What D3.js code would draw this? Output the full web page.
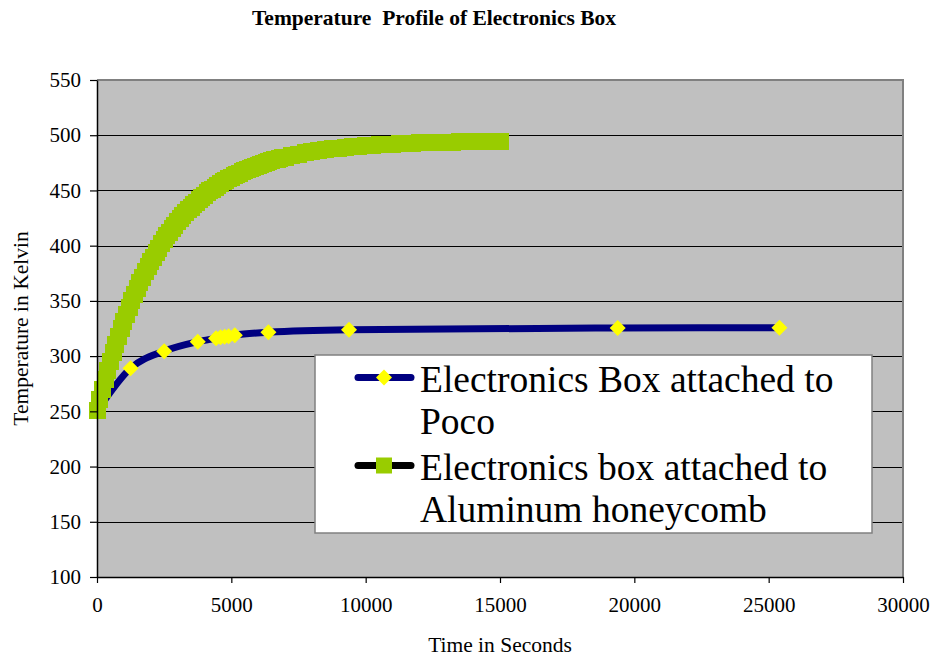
<!DOCTYPE html>
<html>
<head>
<meta charset="utf-8">
<script src="https://cdn.jsdelivr.net/npm/d3@7"></script>
<style>
  html, body { margin: 0; padding: 0; background: #fff; }
  svg { display: block; font-family: "Liberation Serif", "Times New Roman", serif; }
  svg text { white-space: pre; }
</style>
</head>
<body>
<svg id="chart" width="933" height="658"></svg>
<script>
// Time in seconds and temperature in Kelvin, box mounted on Poco
const pocoTime = [0, 1250, 2500, 3750, 4430, 4600, 4750, 4900, 5130, 6380, 9380, 19380, 25400];
const pocoTemp = [250, 289, 304.5, 313, 316.2, 317, 317.5, 318, 319, 321.5, 323.8, 325.5, 325.6];

// Time in seconds and temperature in Kelvin, box mounted on aluminum honeycomb
const honeyTime = [
  0, 100, 200, 300, 400, 500, 600, 700, 800, 900,
  1000, 1100, 1200, 1300, 1400, 1500, 1600, 1700, 1800, 1900,
  2000, 2100, 2200, 2300, 2400, 2500, 2600, 2700, 2800, 2900,
  3000, 3100, 3200, 3300, 3400, 3500, 3600, 3700, 3800, 3900,
  4000, 4100, 4200, 4300, 4400, 4500, 4600, 4700, 4800, 4900,
  5000, 5100, 5200, 5300, 5400, 5500, 5600, 5700, 5800, 5900,
  6000, 6100, 6200, 6300, 6400, 6500, 6600, 6700, 6800, 6900,
  7000, 7250, 7500, 7750, 8000, 8250, 8500, 8750, 9000, 9250,
  9500, 9750, 10000, 10250, 10500, 10750, 11000, 11250, 11500, 11750,
  12000, 12250, 12500, 12750, 13000, 13250, 13500, 13750, 14000, 14250,
  14500, 14750, 15000
];
const honeyTemp = [
  251.0, 260.6, 269.8, 278.6, 287.1, 295.2, 303.1, 310.6, 317.8, 324.8,
  331.4, 337.9, 344.0, 349.9, 355.6, 361.1, 366.3, 371.4, 376.2, 380.9,
  385.4, 389.7, 393.8, 397.8, 401.6, 405.2, 408.8, 412.1, 415.4, 418.5,
  421.5, 424.4, 427.2, 429.8, 432.4, 434.8, 437.2, 439.5, 441.6, 443.7,
  445.7, 447.7, 449.5, 451.3, 453.0, 454.7, 456.3, 457.8, 459.2, 460.6,
  462.0, 463.3, 464.5, 465.7, 466.9, 468.0, 469.0, 470.0, 471.0, 472.0,
  472.9, 473.7, 474.6, 475.4, 476.1, 476.9, 477.6, 478.3, 478.9, 479.6,
  480.2, 481.6, 482.9, 484.0, 485.1, 486.0, 486.9, 487.6, 488.3, 489.0,
  489.5, 490.1, 490.5, 491.0, 491.3, 491.7, 492.0, 492.3, 492.5, 492.8,
  493.0, 493.2, 493.4, 493.5, 493.7, 493.8, 493.9, 494.0, 494.1, 494.2,
  494.3, 494.3, 494.4
];

const xTicks = [0, 5000, 10000, 15000, 20000, 25000, 30000];
const yTicks = [100, 150, 200, 250, 300, 350, 400, 450, 500, 550];
const seriesNames = [
  ["Electronics Box attached to", "Poco"],
  ["Electronics box attached to", "Aluminum honeycomb"]
];
const chartTitle = "Temperature  Profile of Electronics Box";
const xTitle = "Time in Seconds";
const yTitle = "Temperature in Kelvin";

const serif = "'Liberation Serif', 'Times New Roman', serif";
const svg = d3.select("#chart");
const plot = { left: 97, right: 903, top: 80, bottom: 577 };

const x = d3.scaleLinear().domain([0, 30000]).range([plot.left, plot.right]);
const y = d3.scaleLinear().domain([100, 550]).range([plot.bottom, plot.top]);

// Plot area background
svg.append("rect")
  .attr("x", plot.left).attr("y", plot.top)
  .attr("width", plot.right - plot.left).attr("height", plot.bottom - plot.top)
  .attr("fill", "#c0c0c0");

// Horizontal gridlines
svg.append("g").selectAll("line")
  .data(yTicks.filter(v => v > 100 && v < 550))
  .join("line")
  .attr("x1", plot.left).attr("x2", plot.right)
  .attr("y1", d => Math.round(y(d)) + 0.5).attr("y2", d => Math.round(y(d)) + 0.5)
  .attr("stroke", "#000").attr("stroke-width", 1);

// Top and right frame of the plot area
svg.append("path")
  .attr("d", `M${plot.left},${plot.top} H${plot.right} V${plot.bottom}`)
  .attr("fill", "none").attr("stroke", "#808080").attr("stroke-width", 2);

const poco = pocoTime.map((t, i) => [t, pocoTemp[i]]);
const honey = honeyTime.map((t, i) => [t, honeyTemp[i]]);

const line = d3.line().x(d => x(d[0])).y(d => y(d[1])).curve(d3.curveMonotoneX);

// Poco series: smoothed navy line with yellow diamonds
svg.append("path").datum(poco)
  .attr("d", line)
  .attr("fill", "none").attr("stroke", "#000080").attr("stroke-width", 7)
  .attr("stroke-linejoin", "round");

const diamond = d3.symbol(d3.symbolSquare, 128);
svg.append("g").selectAll("path")
  .data(poco)
  .join("path")
  .attr("d", diamond)
  .attr("transform", d => `translate(${x(d[0])},${y(d[1])}) rotate(45)`)
  .attr("fill", "#ffff00");

// Honeycomb series: black line under dense green square markers
svg.append("path").datum(honey)
  .attr("d", line)
  .attr("fill", "none").attr("stroke", "#000").attr("stroke-width", 5);

const sq = 17;
svg.append("g").selectAll("rect")
  .data(honey)
  .join("rect")
  .attr("x", d => Math.round(x(d[0]) - sq / 2))
  .attr("y", d => Math.round(y(d[1]) - sq / 2))
  .attr("width", sq).attr("height", sq)
  .attr("fill", "#99cc00")
  .attr("shape-rendering", "crispEdges");

// Axes
const yAxis = svg.append("g")
  .attr("transform", `translate(${plot.left},0)`)
  .call(d3.axisLeft(y).tickValues(yTicks).tickFormat(d3.format("d"))
    .tickSize(7).tickPadding(9).tickSizeOuter(0));
const xAxis = svg.append("g")
  .attr("transform", `translate(0,${plot.bottom})`)
  .call(d3.axisBottom(x).tickValues(xTicks).tickFormat(d3.format("d"))
    .tickSize(6).tickPadding(14).tickSizeOuter(0));

[yAxis, xAxis].forEach(g => {
  g.attr("font-family", serif).attr("font-size", 21);
  g.selectAll(".domain").attr("stroke", "#000").attr("stroke-width", 1.5);
  g.selectAll(".tick line").attr("stroke", "#000").attr("stroke-width", 1.2);
  g.selectAll(".tick text")
    .attr("fill", "#000")
    .style("font-family", serif)
    .style("font-size", "21px");
});

// Titles
svg.append("text")
  .attr("x", 434).attr("y", 25)
  .attr("text-anchor", "middle")
  .style("font-family", serif)
  .style("font-size", "21.5px").style("font-weight", "bold")
  .text(chartTitle);

svg.append("text")
  .attr("x", 500).attr("y", 652)
  .attr("text-anchor", "middle")
  .style("font-family", serif)
  .style("font-size", "21.5px")
  .text(xTitle);

svg.append("text")
  .attr("transform", `translate(28,${(plot.top + plot.bottom) / 2}) rotate(-90)`)
  .attr("text-anchor", "middle")
  .style("font-family", serif)
  .style("font-size", "21.5px")
  .text(yTitle);

// Legend
const legend = svg.append("g");
legend.append("rect")
  .attr("x", 315).attr("y", 355).attr("width", 557).attr("height", 178)
  .attr("fill", "#fff").attr("stroke", "#808080").attr("stroke-width", 1.5);

const legendRows = [
  { lineY: 377.5, lineColor: "#000080", text: seriesNames[0], baselines: [391.5, 433.5] },
  { lineY: 465.5, lineColor: "#000", text: seriesNames[1], baselines: [480, 522] }
];
legendRows.forEach((r, i) => {
  legend.append("line")
    .attr("x1", 358).attr("x2", 411).attr("y1", r.lineY).attr("y2", r.lineY)
    .attr("stroke", r.lineColor).attr("stroke-width", 7).attr("stroke-linecap", "round");
  if (i === 0) {
    legend.append("path")
      .attr("d", diamond)
      .attr("transform", `translate(384,${r.lineY}) rotate(45)`)
      .attr("fill", "#ffff00");
  } else {
    legend.append("rect")
      .attr("x", 384 - 8).attr("y", r.lineY - 8).attr("width", 16).attr("height", 16)
      .attr("fill", "#99cc00");
  }
  r.text.forEach((t, k) => {
    legend.append("text")
      .attr("x", 420).attr("y", r.baselines[k])
      .style("font-family", serif)
      .style("font-size", "37.5px")
      .text(t);
  });
});
</script>
</body>
</html>
